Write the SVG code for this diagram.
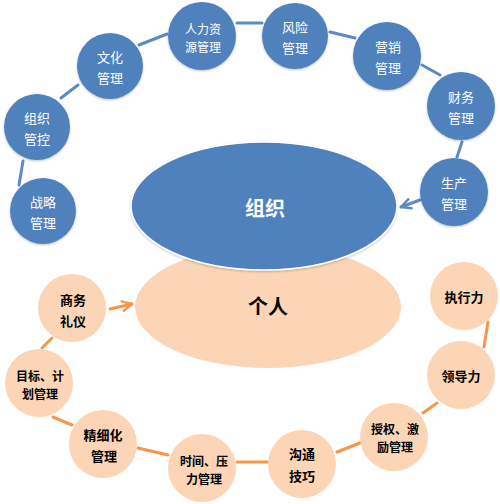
<svg xmlns="http://www.w3.org/2000/svg" width="500" height="504" viewBox="0 0 500 504">
<defs>
<style>
.b{fill:#4F81BD;}
.p{fill:#FBD5B5;}
.bt{font-family:"Noto Sans CJK SC","Liberation Sans",sans-serif;font-size:13px;fill:#FFFFFF;text-anchor:middle;dominant-baseline:central;}
.pt{font-family:"Noto Sans CJK SC","Liberation Sans",sans-serif;font-size:13px;font-weight:bold;fill:#000000;text-anchor:middle;dominant-baseline:central;}
.sm{font-size:12px;}
.big{font-size:20px;font-weight:bold;}
.bl{stroke:#5B8AC4;stroke-width:3;fill:none;stroke-linecap:round;}
.ol{stroke:#F79646;stroke-width:3;fill:none;stroke-linecap:round;}
</style>
<marker id="ab" viewBox="0 0 10 10" refX="9" refY="5" markerWidth="4" markerHeight="4" orient="auto" markerUnits="strokeWidth">
<path d="M1,1 L9,5 L1,9" fill="none" stroke="#5B8AC4" stroke-width="2" stroke-linecap="round" stroke-linejoin="round"/>
</marker>
<marker id="ao" viewBox="0 0 10 10" refX="9" refY="5" markerWidth="4" markerHeight="4" orient="auto" markerUnits="strokeWidth">
<path d="M1,1 L9,5 L1,9" fill="none" stroke="#F79646" stroke-width="2" stroke-linecap="round" stroke-linejoin="round"/>
</marker>
<filter id="sh" x="-20%" y="-20%" width="140%" height="140%">
<feDropShadow dx="0" dy="1" stdDeviation="1" flood-color="#000" flood-opacity="0.25"/>
</filter>
</defs>
<rect width="500" height="504" fill="#FFFFFF"/>

<g id="connectors">
<line class="bl" x1="19" y1="185" x2="23" y2="161"/>
<line class="bl" x1="61" y1="98" x2="78" y2="85"/>
<line class="bl" x1="139" y1="45" x2="167" y2="34"/>
<line class="bl" x1="237" y1="23" x2="262" y2="23"/>
<line class="bl" x1="330" y1="32" x2="355" y2="38"/>
<line class="bl" x1="422" y1="65" x2="440" y2="75"/>
<line class="bl" x1="462" y1="142" x2="457" y2="157"/>
<line class="bl" x1="420" y1="200" x2="401" y2="207" marker-end="url(#ab)"/>
<line class="ol" x1="488" y1="322" x2="484" y2="347"/>
<line class="ol" x1="437" y1="403" x2="423" y2="413"/>
<line class="ol" x1="360" y1="443" x2="337" y2="452"/>
<line class="ol" x1="237" y1="462" x2="268" y2="462"/>
<line class="ol" x1="138" y1="448" x2="168" y2="455"/>
<line class="ol" x1="53" y1="417" x2="72" y2="425"/>
<line class="ol" x1="42" y1="348" x2="52" y2="338"/>
<line class="ol" x1="110" y1="309" x2="132" y2="304" marker-end="url(#ao)"/>
</g>

<g id="geren">
<ellipse class="p" cx="268" cy="307" rx="133" ry="61"/>
<text class="pt big" x="268" y="305">个人</text>
</g>
<g id="zuzhi">
<ellipse class="b" cx="264" cy="206" rx="133" ry="64" stroke="#FFFFFF" stroke-width="1.5" filter="url(#sh)"/>
<text class="bt big" x="265" y="207">组织</text>
</g>

<g id="zhanlue"><circle class="b" cx="43" cy="211" r="33" filter="url(#sh)"/><text class="bt" x="43" y="201">战略</text><text class="bt" x="43" y="222">管理</text></g>
<g id="zuzhiguankong"><circle class="b" cx="37" cy="127" r="33" filter="url(#sh)"/><text class="bt" x="37" y="117">组织</text><text class="bt" x="37" y="138">管控</text></g>
<g id="wenhua"><circle class="b" cx="110" cy="66" r="33" filter="url(#sh)"/><text class="bt" x="110" y="56">文化</text><text class="bt" x="110" y="77">管理</text></g>
<g id="renli"><circle class="b" cx="202" cy="36" r="34" filter="url(#sh)"/><text class="bt sm" x="203" y="28">人力资</text><text class="bt sm" x="203" y="46">源管理</text></g>
<g id="fengxian"><circle class="b" cx="295" cy="36" r="33" filter="url(#sh)"/><text class="bt" x="295" y="26">风险</text><text class="bt" x="295" y="47">管理</text></g>
<g id="yingxiao"><circle class="b" cx="387" cy="56" r="34" filter="url(#sh)"/><text class="bt" x="388" y="46">营销</text><text class="bt" x="388" y="67">管理</text></g>
<g id="caiwu"><circle class="b" cx="461" cy="106" r="34" filter="url(#sh)"/><text class="bt" x="461" y="96">财务</text><text class="bt" x="461" y="117">管理</text></g>
<g id="shengchan"><circle class="b" cx="454" cy="192" r="34" filter="url(#sh)"/><text class="bt" x="454" y="182">生产</text><text class="bt" x="454" y="203">管理</text></g>

<g id="shangwu"><circle class="p" cx="72" cy="308" r="34"/><text class="pt" x="73" y="299">商务</text><text class="pt" x="73" y="320">礼仪</text></g>
<g id="mubiao"><circle class="p" cx="39" cy="383" r="34"/><text class="pt sm" x="40" y="375">目标、计</text><text class="pt sm" x="40" y="393">划管理</text></g>
<g id="jingxihua"><circle class="p" cx="103" cy="444" r="34"/><text class="pt" x="103" y="434">精细化</text><text class="pt" x="104" y="455">管理</text></g>
<g id="shijian"><circle class="p" cx="202" cy="468" r="34"/><text class="pt sm" x="204" y="460">时间、压</text><text class="pt sm" x="204" y="478">力管理</text></g>
<g id="goutong"><circle class="p" cx="302" cy="464" r="34"/><text class="pt" x="302" y="453">沟通</text><text class="pt" x="302" y="475">技巧</text></g>
<g id="shouquan"><circle class="p" cx="394" cy="437" r="34"/><text class="pt sm" x="395" y="428">授权、激</text><text class="pt sm" x="395" y="446">励管理</text></g>
<g id="lingdao"><circle class="p" cx="461" cy="375" r="34"/><text class="pt" x="461" y="375">领导力</text></g>
<g id="zhixing"><circle class="p" cx="464" cy="296" r="34"/><text class="pt" x="464" y="296">执行力</text></g>
</svg>
